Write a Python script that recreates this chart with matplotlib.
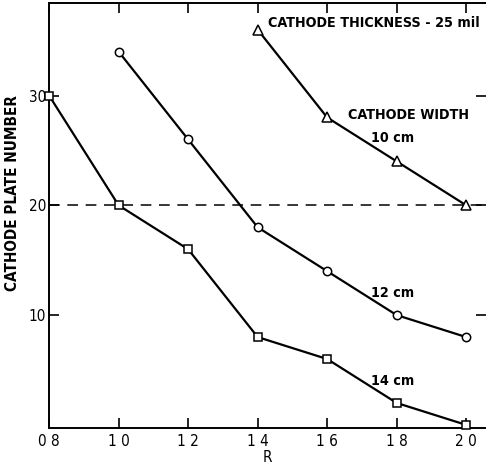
import matplotlib.pyplot as plt
import numpy as np

# R values and cathode plate numbers per cathode width
r_10 = [1.4, 1.6, 1.8, 2.0]
n_10 = [36, 28, 24, 20]
r_12 = [1.0, 1.2, 1.4, 1.6, 1.8, 2.0]
n_12 = [34, 26, 18, 14, 10, 8]
r_14 = [0.8, 1.0, 1.2, 1.4, 1.6, 1.8, 2.0]
n_14 = [30, 20, 16, 8, 6, 2, 0]

xticks = [0.8, 1.0, 1.2, 1.4, 1.6, 1.8, 2.0]
xlabels = ["0 8", "1 0", "1 2", "1 4", "1 6", "1 8", "2 0"]
yticks = [10, 20, 30]

plt.rcParams['font.family'] = ['DejaVu Sans']
plt.rcParams['font.stretch'] = 'condensed'

fig = plt.figure(figsize=(4.86, 4.69), dpi=100)
ax = fig.add_axes([0.101, 0.087, 0.899, 0.906])

kw = dict(color='black', lw=1.6, mfc='white', mec='black', mew=1.1, clip_on=False, zorder=3)
ax.plot(r_10, n_10, marker='^', ms=6.5, **kw)
ax.plot(r_12, n_12, marker='o', ms=6, **kw)
ax.plot(r_14, n_14, marker='s', ms=6, **kw)

ax.axhline(20, color='black', lw=1.1, ls=(0, (7, 5)), zorder=1)

ax.set_xlim(0.8, 2.057)
ax.set_ylim(-0.3, 38.4)
ax.set_xticks(xticks)
ax.set_xticklabels(xlabels, fontsize=11)
ax.set_yticks(yticks)
ax.set_yticklabels([str(v) for v in yticks], fontsize=11)
ax.tick_params(axis='x', direction='in', length=7, width=1.2, top=True, pad=4)
ax.tick_params(axis='y', direction='in', length=7, width=1.2, right=True, pad=2)
for s in ['left', 'bottom', 'top']:
    ax.spines[s].set_linewidth(1.4)
ax.spines['right'].set_visible(False)

ax.set_xlabel("R", fontsize=11, labelpad=1)
ax.set_ylabel("CATHODE PLATE NUMBER", fontsize=11, fontweight='bold')
ax.yaxis.set_label_coords(-0.066, 0.553)

ax.text(1.429, 36.6, "CATHODE THICKNESS - 25 mil", fontsize=10.3, fontweight='bold', va='center')
ax.text(1.834, 28.2, "CATHODE WIDTH", fontsize=10.3, fontweight='bold', ha='center', va='center')
ax.text(1.788, 26.1, "10 cm", fontsize=10.3, fontweight='bold', ha='center', va='center')
ax.text(1.788, 12.0, "12 cm", fontsize=10.3, fontweight='bold', ha='center', va='center')
ax.text(1.788, 4.0, "14 cm", fontsize=10.3, fontweight='bold', ha='center', va='center')

fig.savefig("out.png", dpi=100)
